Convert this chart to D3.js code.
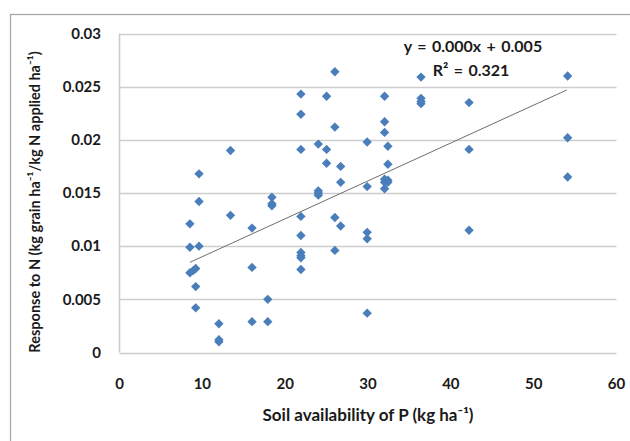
<!DOCTYPE html>
<html>
<head>
<meta charset="utf-8">
<script src="https://cdn.jsdelivr.net/npm/d3@7"></script>
<style>
  html, body { margin: 0; padding: 0; background: #ffffff; }
  svg { display: block; }
  text { font-family: Lato, "Open Sans", "DejaVu Sans", sans-serif; fill: #1a1a1a; }
</style>
</head>
<body>
<svg id="chart" width="630" height="441"></svg>
<script>
// ---- data ----
const soilP = [8.5, 8.5, 9.6, 9.6, 9.6, 8.5, 8.9, 9.2, 9.2, 9.2,
  12.0, 12.0, 12.0, 13.4, 13.4, 16.0, 16.0, 16.0, 17.9, 17.9,
  18.4, 18.4, 18.4, 21.9, 21.9, 21.9, 21.9, 21.9, 21.9, 21.9,
  21.9, 21.9, 24.0, 24.0, 24.0, 24.0, 25.0, 25.0, 25.0, 26.0,
  26.0, 26.0, 26.0, 26.7, 26.7, 26.7, 29.9, 29.9, 29.9, 29.9,
  29.9, 32.0, 32.0, 32.0, 32.4, 32.4, 32.0, 32.4, 32.0, 32.4,
  32.0, 36.4, 36.4, 36.4, 36.4, 42.2, 42.2, 42.2, 54.1, 54.1, 54.1];
const responseN = [0.0121, 0.0099, 0.0100, 0.0168, 0.0142, 0.0075, 0.0077, 0.0079, 0.0062, 0.0042,
  0.0027, 0.0012, 0.0010, 0.0190, 0.0129, 0.0117, 0.0080, 0.0029, 0.0050, 0.0029,
  0.0146, 0.0140, 0.0138, 0.0243, 0.0224, 0.0191, 0.0128, 0.0110, 0.0094, 0.0091,
  0.0089, 0.0078, 0.0196, 0.0152, 0.0150, 0.0148, 0.0241, 0.0191, 0.0178, 0.0264,
  0.0212, 0.0127, 0.0096, 0.0175, 0.0160, 0.0119, 0.0198, 0.0156, 0.0113, 0.0107,
  0.0037, 0.0241, 0.0217, 0.0207, 0.0194, 0.0177, 0.0163, 0.0162, 0.0160, 0.0160,
  0.0154, 0.0259, 0.0239, 0.0236, 0.0234, 0.0235, 0.0191, 0.0115, 0.0260, 0.0202, 0.0165];
const trendX = [8.5, 54.0];
const trendY = [0.00848, 0.02469];
const xTicks = [0, 10, 20, 30, 40, 50, 60];
const yTicks = [0, 0.005, 0.01, 0.015, 0.02, 0.025, 0.03];
const yTickLabels = ["0", "0.005", "0.01", "0.015", "0.02", "0.025", "0.03"];
const equationLines = ["y = 0.000x + 0.005", "R\u00B2 = 0.321"];
const xTitle = "Soil availability of P (kg ha\u207B\u00B9)";
const yTitle = "Response to  N (kg grain ha\u207B\u00B9/kg N applied ha\u207B\u00B9)";

// ---- layout ----
const svg = d3.select("#chart");
const plot = { left: 119.5, right: 616.5, top: 33.5, bottom: 352.5 };

const x = d3.scaleLinear().domain([0, 60]).range([plot.left, plot.right]);
const y = d3.scaleLinear().domain([0, 0.03]).range([plot.bottom, plot.top]);

// outer chart border
svg.append("rect")
  .attr("x", 10.5).attr("y", 14.5)
  .attr("width", 640).attr("height", 440)
  .attr("fill", "none").attr("stroke", "#a9a9a9").attr("stroke-width", 1.3);

// horizontal gridlines
svg.append("g")
  .selectAll("line")
  .data(yTicks)
  .join("line")
  .attr("x1", plot.left).attr("x2", plot.right)
  .attr("y1", d => Math.round(y(d)) + 0.5).attr("y2", d => Math.round(y(d)) + 0.5)
  .attr("stroke", "#cdcdcd").attr("stroke-width", 1.6);

// left plot edge (vertical axis line)
svg.append("line")
  .attr("x1", plot.left).attr("x2", plot.left)
  .attr("y1", plot.top).attr("y2", plot.bottom)
  .attr("stroke", "#cdcdcd").attr("stroke-width", 1.6);

// y tick labels
svg.append("g")
  .selectAll("text")
  .data(yTicks)
  .join("text")
  .attr("x", 101)
  .attr("y", d => y(d))
  .attr("dy", "0.35em")
  .attr("text-anchor", "end")
  .attr("font-size", 15)
  .attr("font-weight", "bold")
  .text((d, i) => yTickLabels[i]);

// x tick labels
svg.append("g")
  .selectAll("text")
  .data(xTicks)
  .join("text")
  .attr("x", d => x(d))
  .attr("y", 384)
  .attr("dy", "0.35em")
  .attr("text-anchor", "middle")
  .attr("font-size", 15)
  .attr("font-weight", "bold")
  .text(d => d);

// points
svg.append("g")
  .selectAll("path")
  .data(soilP.map((d, i) => [d, responseN[i]]))
  .join("path")
  .attr("d", d3.symbol().type(d3.symbolSquare).size(44))
  .attr("transform", d => `translate(${x(d[0])},${y(d[1])}) rotate(45)`)
  .attr("fill", "#4a7ebb");

// trendline
svg.append("line")
  .attr("x1", x(trendX[0])).attr("y1", y(trendY[0]))
  .attr("x2", x(trendX[1])).attr("y2", y(trendY[1]))
  .attr("stroke", "#6e6e6e").attr("stroke-width", 1);

// equation
svg.append("g")
  .selectAll("text")
  .data(equationLines)
  .join("text")
  .attr("x", (d, i) => i === 0 ? 473 : 471)
  .attr("y", (d, i) => 46 + i * 24)
  .attr("dy", "0.35em")
  .attr("text-anchor", "middle")
  .attr("font-size", 16)
  .attr("font-weight", "bold")
  .attr("word-spacing", "1.5px")
  .text(d => d);

// x title
svg.append("text")
  .attr("x", 368).attr("y", 415)
  .attr("dy", "0.35em")
  .attr("text-anchor", "middle")
  .attr("font-size", 17)
  .attr("font-weight", "bold")
  .text(xTitle);

// y title
svg.append("text")
  .attr("transform", "translate(35,202) rotate(-90)")
  .attr("dy", "0.35em")
  .attr("text-anchor", "middle")
  .attr("font-size", 14.5)
  .attr("font-weight", "bold")
  .text(yTitle);
</script>
</body>
</html>
